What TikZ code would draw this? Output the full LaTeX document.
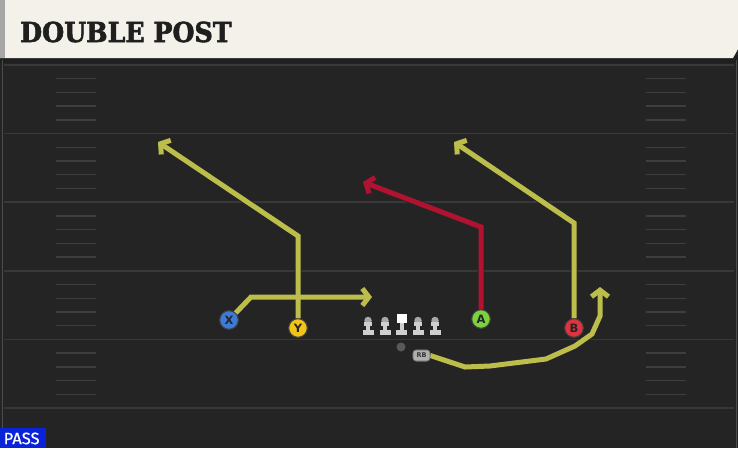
\documentclass[tikz,border=0pt]{standalone}
\usepackage{fontspec}
\setmainfont{DejaVu Sans}
\newfontfamily\titlefont{DejaVu Serif}[BoldFeatures={FakeBold=2.2}]
\newfontfamily\passfont{Fira Sans}[FakeBold=0.6]
\usetikzlibrary{arrows.meta}
\definecolor{fieldbg}{HTML}{242424}
\definecolor{fieldline}{HTML}{383838}
\definecolor{hashc}{HTML}{3E3E3E}
\definecolor{headbg}{HTML}{F4F1EA}
\definecolor{routey}{HTML}{BDBD4C}
\definecolor{router}{HTML}{B0122F}
\definecolor{pxblue}{HTML}{3D7BD9}
\definecolor{pyellow}{HTML}{F2C419}
\definecolor{pgreen}{HTML}{7CD23C}
\definecolor{pred}{HTML}{E0323F}
\definecolor{olgray}{HTML}{CFCFCF}
\definecolor{olhead}{HTML}{A8A8A8}
\definecolor{passblue}{HTML}{0A22D8}
\tikzset{
  player/.style={circle, minimum size=18.5pt, inner sep=0pt, draw=black!75, line width=0.9pt,
    font=\bfseries\fontsize{11.5}{11.5}\selectfont, text=black!85},
  rbbox/.style={draw=black!60, fill=olgray!85!black, rounded corners=3pt, minimum width=17pt,
    minimum height=11pt, inner sep=0pt, font=\bfseries\fontsize{6.5}{6.5}\selectfont, text=black!80, line width=0.6pt},
  route/.style={line width=5pt, line join=miter, -{Straight Barb[length=6.5pt,width=17pt]}},
  outline/.style={line width=6.6pt, draw=black!85, line join=miter, -{Straight Barb[length=7pt,width=18.5pt]}},
  yard/.style={draw=fieldline, line width=1.6pt},
  hashmark/.style={draw=hashc, line width=1.4pt},
}
\begin{document}
\begin{tikzpicture}[x=1pt,y=-1pt]
\useasboundingbox (0,0) rectangle (738,448);
% field
\fill[fieldbg] (0,0) rectangle (738,448);
\fill[black!88] (0,56) rectangle (738,63);
\draw[draw=black!70, line width=1pt] (2,60) -- (2,448);
\draw[draw=black!70, line width=1pt] (736,60) -- (736,448);
% yard lines
\foreach \yy in {65,133.6,202.2,270.8,339.4,408} {
  \draw[yard] (4,\yy) -- (734,\yy);
}
% hash marks
\foreach \base in {65,133.6,202.2,270.8,339.4} {
  \foreach \k in {1,2,3,4} {
    \draw[hashmark] (56,\base+\k*13.72) -- (96,\base+\k*13.72);
    \draw[hashmark] (646,\base+\k*13.72) -- (686,\base+\k*13.72);
  }
}
% header
\fill[headbg] (0,0) -- (738,0) -- (738,49) -- (733,58) -- (0,58) -- cycle;
\fill[black!35] (0,0) rectangle (4.5,58);
\node[font=\titlefont\bfseries\fontsize{27.5}{27.5}\selectfont, text=black!88, anchor=west, inner sep=0pt]
  (title) at (20,32) {\scalebox{0.92}[1]{DOUBLE POST}};
% pass tag
\fill[passblue] (0,428) rectangle (46,448);
\node[font=\passfont\fontsize{16.5}{16.5}\selectfont, text=white, anchor=west, inner sep=0pt]
  (pass) at (3.5,438.5) {PASS};
% route coordinates
\coordinate (xc) at (251,297);
\coordinate (xt) at (372,297);
\coordinate (yc) at (298,236);
\coordinate (yt) at (158,142);
\coordinate (ac) at (481,227);
\coordinate (at) at (363,182);
\coordinate (bc) at (574,223);
\coordinate (bt) at (454,142);
\coordinate (r1) at (465,367);
\coordinate (r2) at (490,366);
\coordinate (r3) at (546,359);
\coordinate (r4) at (575,346);
\coordinate (r5) at (592,334);
\coordinate (r6) at (600,316);
\coordinate (rt) at (600,287);
% players
\node[player, fill=pxblue] (X) at (229,320) {X};
\node[player, fill=pyellow] (Y) at (298,328) {Y};
\node[player, fill=pgreen] (A) at (481,319) {A};
\node[player, fill=pred] (B) at (574,328) {B};
\node[rbbox] (RB) at (421.5,355.5) {RB};
\node[circle, fill=gray!70!black, minimum size=9pt, inner sep=0pt] (ball) at (401,347) {};
% routes (outline first, then colour)
\draw[outline] (X) -- (xc) -- (xt);
\draw[outline] (Y) -- (yc) -- (yt);
\draw[outline] (A) -- (ac) -- (at);
\draw[outline] (B) -- (bc) -- (bt);
\draw[outline] (RB.east) -- (r1) -- (r2) -- (r3) -- (r4) -- (r5) -- (r6) -- (rt);
\draw[route, routey] (X) -- (xc) -- (xt);
\draw[route, routey] (Y) -- (yc) -- (yt);
\draw[route, router] (A) -- (ac) -- (at);
\draw[route, routey] (B) -- (bc) -- (bt);
\draw[route, routey] (RB.east) -- (r1) -- (r2) -- (r3) -- (r4) -- (r5) -- (r6) -- (rt);
% redraw players on top
\node[player, fill=pxblue] at (X) {X};
\node[player, fill=pyellow] at (Y) {Y};
\node[player, fill=pgreen] at (A) {A};
\node[player, fill=pred] at (B) {B};
\node[rbbox] at (RB) {RB};
% offensive line
\foreach \n/\xx in {L1/368,L2/385,L4/418,L5/435} {
  \fill[olgray] (\xx-2,321) rectangle (\xx+2,331);
  \fill[olgray] (\xx-5.5,330) rectangle (\xx+5.5,334.5);
  \node[circle, fill=olhead, minimum size=7.5pt, inner sep=0pt] (\n) at (\xx,320.5) {};
  \fill[olgray] (\xx-3.7,321.5) rectangle (\xx+3.7,325.5);
}
\fill[olgray] (399.5,322) rectangle (403.5,331);
\fill[olgray] (396,330) rectangle (407,334.5);
\node[fill=white, minimum width=10pt, minimum height=9pt, inner sep=0pt] (L3) at (401.5,318.5) {};
\end{tikzpicture}
\end{document}
